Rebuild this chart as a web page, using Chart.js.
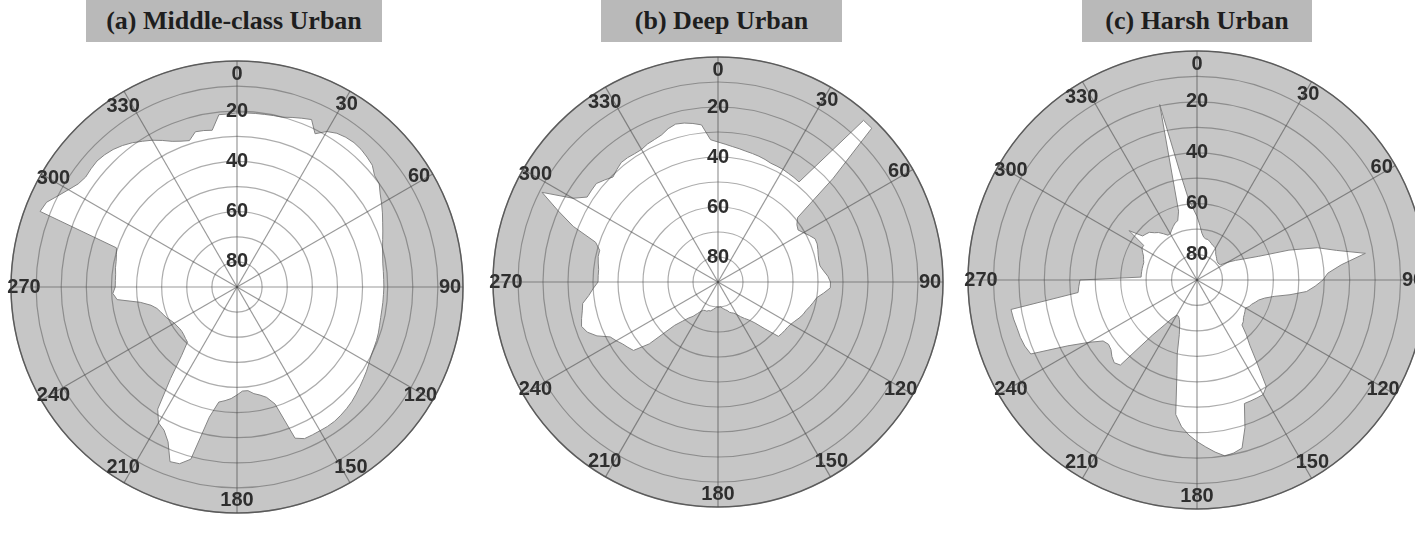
<!DOCTYPE html>
<html>
<head>
<meta charset="utf-8">
<script src="https://cdn.jsdelivr.net/npm/chart.js@4.4.0/dist/chart.umd.min.js"></script>
<style>
  html, body { margin: 0; padding: 0; background: #fff; overflow: hidden; }
  body { width: 1415px; height: 536px; position: relative; }
  .title {
    position: absolute; top: 0; height: 42px; background: #b9b9b9; color: #1e1e1e;
    font: bold 26px "Liberation Serif", "Times New Roman", serif;
    line-height: 42px; text-align: center; white-space: nowrap;
  }
  canvas { position: absolute; }
</style>
</head>
<body>
<div class="title" id="t0" style="left:86px;width:296px"></div>
<div class="title" id="t1" style="left:601px;width:241px"></div>
<div class="title" id="t2" style="left:1082px;width:230px"></div>
<canvas id="c0" width="472" height="472" style="left:1px;top:51px"></canvas>
<canvas id="c1" width="470" height="470" style="left:483px;top:47px"></canvas>
<canvas id="c2" width="478" height="478" style="left:958px;top:41px"></canvas>
<script>
// panel titles
const titles = ['(a) Middle-class Urban', '(b) Deep Urban', '(c) Harsh Urban'];

// azimuth of each sample (deg, clockwise from north)
const azimuths = [
  0, 3, 6, 9, 12, 15, 18, 21, 24, 27,
  30, 33, 36, 39, 42, 45, 48, 51, 54, 57,
  60, 63, 66, 69, 72, 75, 78, 81, 84, 87,
  90, 93, 96, 99, 102, 105, 108, 111, 114, 117,
  120, 123, 126, 129, 132, 135, 138, 141, 144, 147,
  150, 153, 156, 159, 162, 165, 168, 171, 174, 177,
  180, 183, 186, 189, 192, 195, 198, 201, 204, 207,
  210, 213, 216, 219, 222, 225, 228, 231, 234, 237,
  240, 243, 246, 249, 252, 255, 258, 261, 264, 267,
  270, 273, 276, 279, 282, 285, 288, 291, 294, 297,
  300, 303, 306, 309, 312, 315, 318, 321, 324, 327,
  330, 333, 336, 339, 342, 345, 348, 351, 354, 357
];

// azimuth labels shown round the rim, elevation labels on the north spoke
const azimuthTicks = [0, 30, 60, 90, 120, 150, 180, 210, 240, 270, 300, 330];
const elevationTicks = [20, 40, 60, 80];

// elevation mask (deg) per azimuth
const middleClassMask = [
  20.7, 20.6, 20.5, 20.4, 20.2, 20, 19, 18, 17, 21.5,
  18.5, 17, 16.3, 16, 16.2, 16.8, 17.5, 19.5, 20, 22,
  23.5, 25, 26.5, 27.8, 29, 30, 30.7, 31.2, 31.4, 31.5,
  31.5, 31.6, 31.6, 31.6, 31.5, 31.2, 30.8, 30.5, 30.3, 30,
  29.3, 28.5, 27.8, 27, 26.2, 25.4, 24.8, 24.3, 23.9, 23.8,
  23.9, 23.9, 23.9, 25.5, 41, 44.5, 46, 47, 48.5, 48.5,
  47, 45.5, 44.5, 43.6, 37, 19, 16, 15.5, 22.5, 26,
  27.5, 32, 45, 55, 60.5, 61, 61.5, 61.8, 61.8, 61.5,
  61.2, 60.5, 59.5, 58.8, 58, 57, 55, 51, 42, 40.5,
  41.5, 41.5, 41.4, 41, 40.8, 40.3, 39.5, 6, 7, 10,
  12.5, 14.6, 15.5, 15.2, 15, 15.5, 16.3, 17.5, 19, 20.8,
  22.5, 24.5, 26.5, 27.8, 28.7, 26, 26.3, 26.8, 21, 21
];
const deepUrbanMask = [
  34, 34.8, 35.5, 36, 36.5, 36.8, 37.1, 37.5, 38, 38,
  38, 38.2, 38.3, 38.5, 3, 3, 28, 49, 51, 51.8,
  50.5, 49, 47.5, 47.5, 48, 48.5, 48.8, 48.7, 47.5, 46,
  45, 45, 47.5, 50, 51, 52, 53, 53.6, 54.5, 55.5,
  56.3, 56.8, 57, 57.2, 57.5, 63.5, 68, 70.5, 72, 73.5,
  75, 76, 76.5, 77, 78, 78.5, 79, 79.5, 80, 80,
  80, 80, 79.5, 79, 78.5, 78, 78, 77.5, 77.5, 77.3,
  76.5, 75, 73, 71.5, 69, 65.5, 53, 46.5, 45.5, 44.5,
  43, 41.6, 37, 34, 32.6, 33.5, 34.5, 35.2, 38, 40,
  42, 42, 42, 41.5, 41, 41, 38.5, 28, 20, 11,
  23, 27.6, 27.5, 27.4, 29, 30.6, 29.5, 28.5, 28.5, 28.8,
  28.8, 28, 27.6, 27, 25.5, 24.6, 25, 25.8, 26.8, 33
];
const harshUrbanMask = [
  65, 68.5, 71.5, 73, 73.5, 73.5, 74, 74.5, 75, 75.2,
  75.5, 76.5, 77.5, 78, 78.5, 79, 79.2, 79.4, 79.3, 79,
  76, 73, 69.5, 64, 52, 41, 34, 23, 33, 38.5,
  40.5, 43.5, 46.7, 53, 59, 62.5, 64.5, 65.5, 66.5, 67,
  68, 67.5, 67, 66.5, 65.5, 65, 61, 57, 50, 40,
  38, 38, 38, 38, 29, 21.6, 20.5, 20, 22, 24.3,
  26.5, 29, 32, 36.5, 52, 60, 67.5, 71, 73, 74,
  74, 72, 68, 62, 45, 44, 45, 46.5, 47, 46,
  41, 33, 18.5, 17.5, 17, 16.8, 16.3, 16, 43, 43.5,
  44, 68, 68, 68, 68, 68, 68, 67.5, 67, 66,
  65, 65, 57, 62.5, 63, 63.5, 65, 66, 67.5, 69,
  69, 68, 67, 66, 65.5, 62, 19.5, 47, 58, 62
];

const labelFont = { family: '"Liberation Sans", Arial, sans-serif', size: 20, weight: 'bold' };

// gray sky disk under the mask, outlined at the horizon
const skyDisk = {
  id: 'skyDisk',
  beforeDatasetsDraw(chart) {
    const s = chart.scales.r;
    const ctx = chart.ctx;
    ctx.save();
    ctx.beginPath();
    ctx.arc(s.xCenter, s.yCenter, s.getDistanceFromCenterForValue(0), 0, Math.PI * 2);
    ctx.fillStyle = '#c6c6c6';
    ctx.fill();
    ctx.lineWidth = 1.5;
    ctx.strokeStyle = '#6a6a6a';
    ctx.stroke();
    ctx.restore();
  }
};

// pull the rim labels inside the horizon circle
function rimPadding(ctx) {
  const label = ctx.label || '';
  const a = azimuths[ctx.index] * Math.PI / 180;
  const w = label.length * 11.1, h = 24;
  return -23 - (w / 2 * Math.abs(Math.sin(a)) + h / 2 * Math.abs(Math.cos(a)));
}

function makeSky(id, values) {
  return new Chart(document.getElementById(id), {
    type: 'radar',
    data: {
      labels: azimuths,
      datasets: [{
        data: values,
        fill: 'start',
        backgroundColor: '#ffffff',
        borderColor: '#858585',
        borderWidth: 1,
        pointRadius: 0,
        tension: 0
      }]
    },
    options: {
      responsive: false,
      animation: false,
      events: [],
      plugins: { legend: { display: false }, tooltip: { enabled: false } },
      scales: {
        r: {
          min: 0,
          max: 90,
          reverse: true,
          grid: { circular: true, color: 'rgba(70,70,70,0.45)', lineWidth: 1.2, z: 1 },
          angleLines: {
            color: 'rgba(70,70,70,0.55)',
            lineWidth: ctx => azimuthTicks.includes(azimuths[ctx.index]) ? 1.2 : 0
          },
          pointLabels: {
            color: '#2e2e2e',
            font: labelFont,
            padding: rimPadding,
            callback: v => azimuthTicks.includes(v) ? String(v) : ''
          },
          ticks: {
            stepSize: 10,
            z: 1,
            showLabelBackdrop: false,
            backdropPadding: 0,
            color: '#2e2e2e',
            font: labelFont,
            callback: v => elevationTicks.includes(v) ? String(v) : ''
          }
        }
      }
    },
    plugins: [skyDisk]
  });
}

titles.forEach((t, i) => { document.getElementById('t' + i).textContent = t; });
makeSky('c0', middleClassMask);
makeSky('c1', deepUrbanMask);
makeSky('c2', harshUrbanMask);
</script>
</body>
</html>
